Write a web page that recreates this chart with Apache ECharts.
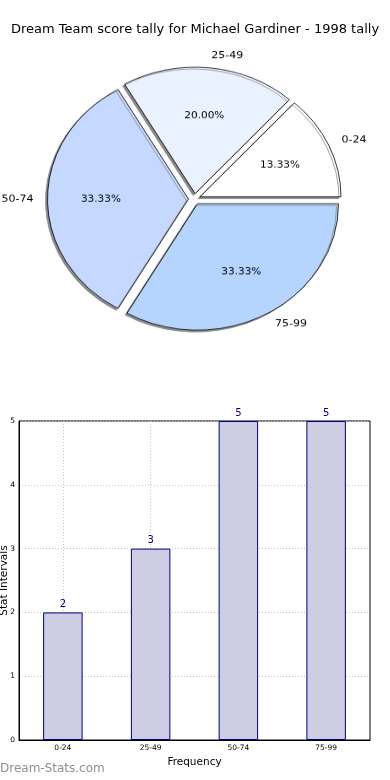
<!DOCTYPE html>
<html><head><meta charset="utf-8">
<script src="https://cdn.jsdelivr.net/npm/echarts@6/dist/echarts.min.js"></script>
<style>
html,body{margin:0;padding:0;background:#fff;}
#main{position:absolute;left:0;top:0;width:390px;height:780px;}
#pie{position:absolute;left:0;top:0;width:390px;height:400px;transform:scaleY(0.897);transform-origin:0 199px;}
</style></head><body>
<div id="main"></div><div id="pie"></div>
<script>
const titleText = 'Dream Team score tally for Michael Gardiner - 1998 tally';
const categories = ['0-24', '25-49', '50-74', '75-99'];
const counts = [2, 3, 5, 5];
const pieColors = ['#ffffff', '#eaf1ff', '#c5d8ff', '#b5d5ff'];
const yMin = 0, yMax = 5, yStep = 1;
const xName = 'Frequency';
const yName = 'Stat Intervals';
const watermark = 'Dream-Stats.com';

const FONT = 'DejaVu Sans';
const PIE_CENTER = [194.5, 199];
const PIE_R = 141;

const pieChart = echarts.init(document.getElementById('pie'), null, {renderer: 'canvas'});
const total = counts.reduce((a, b) => a + b, 0);
const pieData = categories.map((c, i) => ({
  name: c, value: counts[i], selected: true,
  itemStyle: {color: pieColors[i]}
}));
const labelData = categories.map((c, i) => ({name: c, value: counts[i], selected: true}));

pieChart.setOption({
  animation: false,
  series: [
    {
      type: 'pie', center: PIE_CENTER, radius: PIE_R,
      startAngle: 0, clockwise: false,
      selectedMode: 'multiple', selectedOffset: 6,
      avoidLabelOverlap: false,
      emphasis: {disabled: true},
      itemStyle: {borderColor: '#000', borderWidth: 0.8,
        shadowColor: '#8a8a8a', shadowBlur: 0, shadowOffsetX: -2, shadowOffsetY: 2},
      label: {show: true, position: 'outside', formatter: '{b}', fontSize: 11, color: '#000',
        fontFamily: FONT, distanceToLabelLine: 0},
      labelLine: {show: false, length: 14, length2: 0},
      data: pieData
    },
    {
      type: 'pie', center: PIE_CENTER, radius: [PIE_R * 0.2, PIE_R],
      startAngle: 0, clockwise: false,
      selectedMode: 'multiple', selectedOffset: 6,
      avoidLabelOverlap: false,
      emphasis: {disabled: true},
      itemStyle: {color: 'rgba(0,0,0,0)', borderWidth: 0},
      label: {show: true, position: 'inside', fontSize: 10.5, color: '#000', fontFamily: FONT,
        formatter: p => (p.value / total * 100).toFixed(2) + '%'},
      labelLine: {show: false},
      data: labelData
    }
  ]
});

const chart = echarts.init(document.getElementById('main'), null, {renderer: 'canvas'});
chart.setOption({
  animation: false,
  title: {text: titleText, left: 'center', top: 18,
    textStyle: {fontSize: 13, fontWeight: 'normal', color: '#000', fontFamily: FONT}},
  grid: {left: 19, right: 20, top: 421, bottom: 40, show: true, borderColor: '#000', borderWidth: 1,
    containLabel: false, outerBoundsMode: 'none'},
  xAxis: {
    type: 'category', data: categories, boundaryGap: true,
    axisLine: {lineStyle: {color: '#000', width: 1}},
    axisTick: {show: false},
    axisLabel: {fontSize: 7.5, color: '#000', margin: 4, fontFamily: FONT},
    splitLine: {show: true, alignWithLabel: true, lineStyle: {color: '#c4c4c4', type: [1, 2], width: 1}},
    name: xName, nameLocation: 'middle', nameGap: 17, nameMoveOverlap: false,
    nameTextStyle: {fontSize: 10.5, color: '#000', fontFamily: FONT}
  },
  yAxis: {
    type: 'value', min: yMin, max: yMax, interval: yStep,
    axisLine: {show: true, lineStyle: {color: '#000', width: 1}},
    axisTick: {show: false},
    axisLabel: {fontSize: 7.5, color: '#000', margin: 4, fontFamily: FONT},
    splitLine: {show: true, lineStyle: {color: '#c4c4c4', type: [1, 2], width: 1}},
    name: yName, nameLocation: 'middle', nameGap: 15, nameRotate: 90, nameMoveOverlap: false,
    nameTextStyle: {fontSize: 10.5, color: '#000', fontFamily: FONT, verticalAlign: 'middle'}
  },
  series: [{
    type: 'bar', data: counts, barWidth: '45%',
    itemStyle: {color: '#cdcde4', borderColor: '#000080', borderWidth: 1},
    label: {show: true, position: 'top', distance: 3, color: '#000080', fontSize: 10, fontFamily: FONT},
    emphasis: {disabled: true}
  }],
  graphic: [{
    type: 'text', left: 0, top: 763,
    style: {text: watermark, fill: '#8f8f8f', font: '12px "DejaVu Sans"'}
  }]
});
</script>
</body></html>
